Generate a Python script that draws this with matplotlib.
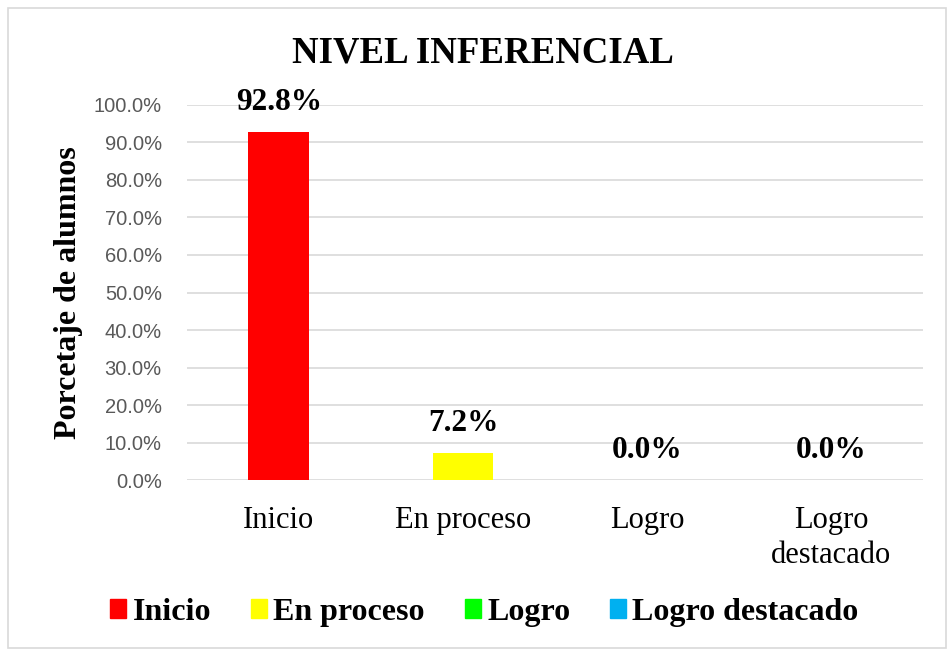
import matplotlib.pyplot as plt
from matplotlib.patches import Patch, Rectangle
from matplotlib.ticker import FuncFormatter

# datos del grafico
categorias = ["Inicio", "En proceso", "Logro", "Logro\ndestacado"]
leyenda = ["Inicio", "En proceso", "Logro", "Logro destacado"]
porcentajes = [92.8, 7.2, 0.0, 0.0]
colores = ["#FF0000", "#FFFF00", "#00FF00", "#00B0F0"]

serif = "Liberation Serif"
sans = "Liberation Sans"

fig = plt.figure(figsize=(9.48, 6.5), dpi=100)
ax = fig.add_axes([0.197, 0.2615, 0.777, 0.577])

x = range(len(categorias))
barras = ax.bar(x, porcentajes, width=0.33, color=colores, zorder=3)

for b, v in zip(barras, porcentajes):
    ax.annotate(f"{v:.1f}%", (b.get_x() + b.get_width() / 2, v),
                xytext=(0, 11), textcoords="offset points",
                ha="center", va="bottom", fontsize=22.5, fontweight="bold",
                family=serif)

ax.set_ylim(0, 100)
ax.set_xlim(-0.5, 3.5)
ax.set_yticks(range(0, 101, 10))
ax.yaxis.set_major_formatter(FuncFormatter(lambda v, p: f"{v:.1f}%"))
ax.set_xticks(list(x))
ax.set_xticklabels(categorias, family=serif, fontsize=22, linespacing=1.25)
for t in ax.get_yticklabels():
    t.set_family(sans)
    t.set_fontsize(14.5)
    t.set_color("#595959")
ax.tick_params(axis="both", length=0)
ax.tick_params(axis="x", pad=19)
ax.tick_params(axis="y", pad=18)
ax.grid(axis="y", color="#d9d9d9", linewidth=1.2, zorder=0)
for s in ax.spines.values():
    s.set_visible(False)

ax.set_ylabel("Porcetaje de alumnos", family=serif, fontsize=23,
              fontweight="bold", labelpad=8)

fig.text(0.509, 0.918, "NIVEL INFERENCIAL", ha="center", va="center",
         family=serif, fontsize=26.5, fontweight="bold")

handles = [Patch(color=c) for c in colores]
fig.legend(handles, leyenda, loc="center", bbox_to_anchor=(0.511, 0.058),
           ncol=4, frameon=False, handlelength=0.5, handleheight=0.5,
           handletextpad=0.2, columnspacing=1.25,
           prop={"family": serif, "size": 23, "weight": "bold"})

# marco exterior
fig.patches.append(Rectangle((8 / 948, 2 / 650), 938 / 948, 640 / 650,
                             transform=fig.transFigure, fill=False,
                             edgecolor="#d9d9d9", linewidth=1.2))

fig.savefig("out.png", dpi=100)
